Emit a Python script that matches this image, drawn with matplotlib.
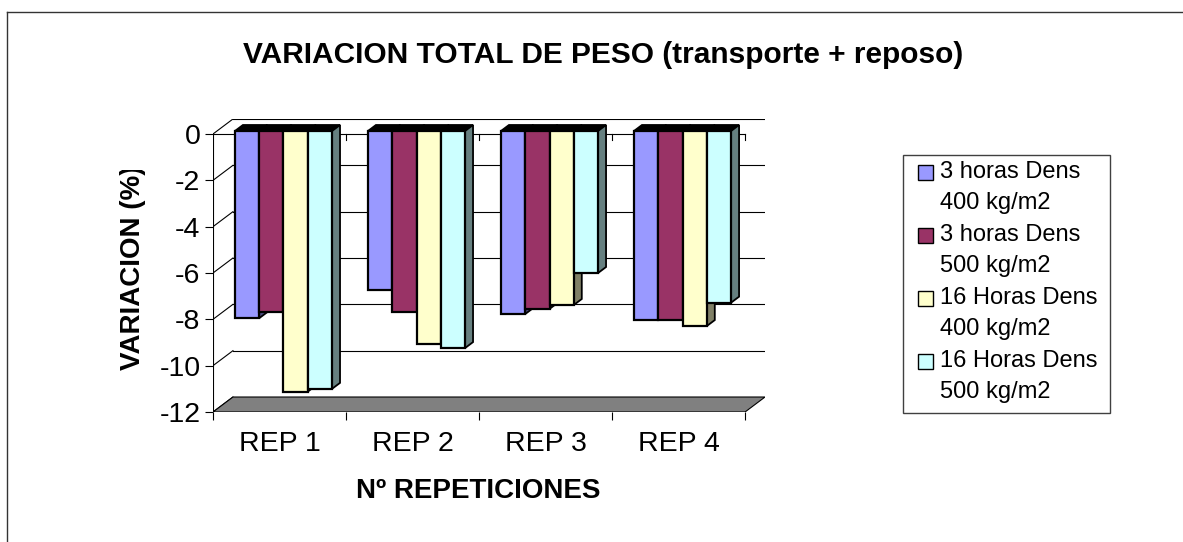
import matplotlib.pyplot as plt
from matplotlib.patches import Polygon, Rectangle
from matplotlib.lines import Line2D
from matplotlib.transforms import Bbox, TransformedBbox

plt.rcParams['font.family'] = ['Liberation Sans', 'DejaVu Sans']
plt.rcParams['axes.unicode_minus'] = False

reps = ['REP 1', 'REP 2', 'REP 3', 'REP 4']
labels = ['3 horas Dens\n400 kg/m2', '3 horas Dens\n500 kg/m2',
          '16 Horas Dens\n400 kg/m2', '16 Horas Dens\n500 kg/m2']
h3_400 = [-8.08, -6.86, -7.90, -8.16]
h3_500 = [-7.83, -7.83, -7.68, -8.16]
h16_400 = [-11.25, -9.20, -7.51, -8.42]
h16_500 = [-11.13, -9.37, -6.13, -7.41]
data = [h3_400, h3_500, h16_400, h16_500]

colors = ['#9999FF', '#993366', '#FFFFCC', '#CCFFFF']
side_colors = ['#4D4D80', '#4D1A33', '#808066', '#668080']

W, H = 1183, 542
fig = plt.figure(figsize=(W / 100, H / 100), dpi=100)
ax = fig.add_axes([213 / W, 130 / H, 552 / W, 293 / H])

# pseudo 3D depth offset (data units)
dx, dy = 0.15, 0.647
f1, f2 = 0.2, 0.6
bw = 0.1825
gap = 0.135

# side wall, back wall, floor
for v in range(-12, 1, 2):
    ax.plot([0, dx], [v, v + dy], color='black', lw=0.8, zorder=1)
    if v > -12:
        ax.plot([dx, 4 + dx], [v + dy, v + dy], color='black', lw=0.8, zorder=1)
ax.add_patch(Polygon([(0, -12), (4, -12), (4 + dx, -12 + dy), (dx, -12 + dy)],
                     closed=True, fc='#808080', ec='black', lw=0.8, zorder=2))
ax.plot([0, 0], [-12, 0], color='black', lw=0.8, zorder=1)
ax.plot([0, 4], [0, 0], color='black', lw=0.8, zorder=1)
for i in range(1, 5):
    ax.plot([i, i], [0, -0.26], color='black', lw=0.8, zorder=1)

z = 3
for i in range(len(reps)):
    for j, vals in enumerate(data):
        v = vals[i]
        x0 = i + gap + j * bw
        x1 = x0 + bw
        top = [(x0 + f1 * dx, f1 * dy), (x1 + f1 * dx, f1 * dy),
               (x1 + f2 * dx, f2 * dy), (x0 + f2 * dx, f2 * dy)]
        side = [(x1 + f1 * dx, f1 * dy), (x1 + f1 * dx, v + f1 * dy),
                (x1 + f2 * dx, v + f2 * dy), (x1 + f2 * dx, f2 * dy)]
        ax.add_patch(Polygon(top, fc='black', ec='black', lw=1.3, zorder=z))
        ax.add_patch(Polygon(side, fc=side_colors[j], ec='black', lw=1.3, zorder=z))
        ax.bar(x0 + f1 * dx, v, width=bw, bottom=f1 * dy, align='edge',
               color=colors[j], edgecolor='black', lw=1.6, zorder=z + 0.5)
        z += 1

ax.set_xlim(0, 4 + dx)
ax.set_ylim(-12, dy)
for s in ax.spines.values():
    s.set_visible(False)
ax.set_yticks(range(-12, 1, 2))
ax.tick_params(axis='y', labelsize=20.5, length=6, width=0.8, pad=3)
ax.set_xticks([0.5, 1.5, 2.5, 3.5])
ax.set_xticklabels(reps)
ax.set_xticks([0, 1, 2, 3, 4], minor=True)
ax.tick_params(axis='x', which='major', labelsize=20.5, length=0, pad=14)
ax.tick_params(axis='x', which='minor', length=6, width=0.8)

fig.text(603 / W, 1 - 55 / H, 'VARIACION TOTAL DE PESO (transporte + reposo)',
         fontsize=21.5, weight='bold', ha='center', va='center')
fig.text(478 / W, 1 - 491 / H, 'Nº REPETICIONES', fontsize=20, weight='bold',
         ha='center', va='center')
yl = fig.text(133 / W, 1 - 268 / H, 'VARIACION (%)', fontsize=20, weight='bold',
              rotation=90, ha='center', va='center')
yl.set_clip_on(True)
yl.set_clip_box(TransformedBbox(Bbox([[0, 0], [1, 1 - 170 / H]]), fig.transFigure))

# legend
fig.add_artist(Rectangle((903 / W, 1 - 413 / H), 207 / W, 258 / H, transform=fig.transFigure,
                         fill=False, ec='#404040', lw=1))
for j, lab in enumerate(labels):
    yc = 172 + j * 63
    l1, l2 = lab.split('\n')
    fig.add_artist(Rectangle((918 / W, 1 - (yc + 7.5) / H), 15 / W, 15 / H,
                             transform=fig.transFigure, fc=colors[j], ec='black', lw=1))
    fig.text(940 / W, 1 - yc / H, l1, fontsize=17, ha='left', va='center')
    fig.text(940 / W, 1 - (yc + 31) / H, l2, fontsize=17, ha='left', va='center')

# chart border
fig.add_artist(Line2D([7 / W, 7 / W], [0, 1 - 12 / H], color='#333333', lw=1))
fig.add_artist(Line2D([7 / W, 1], [1 - 12 / H, 1 - 12 / H], color='#333333', lw=1))

fig.savefig('out.png', dpi=100)
